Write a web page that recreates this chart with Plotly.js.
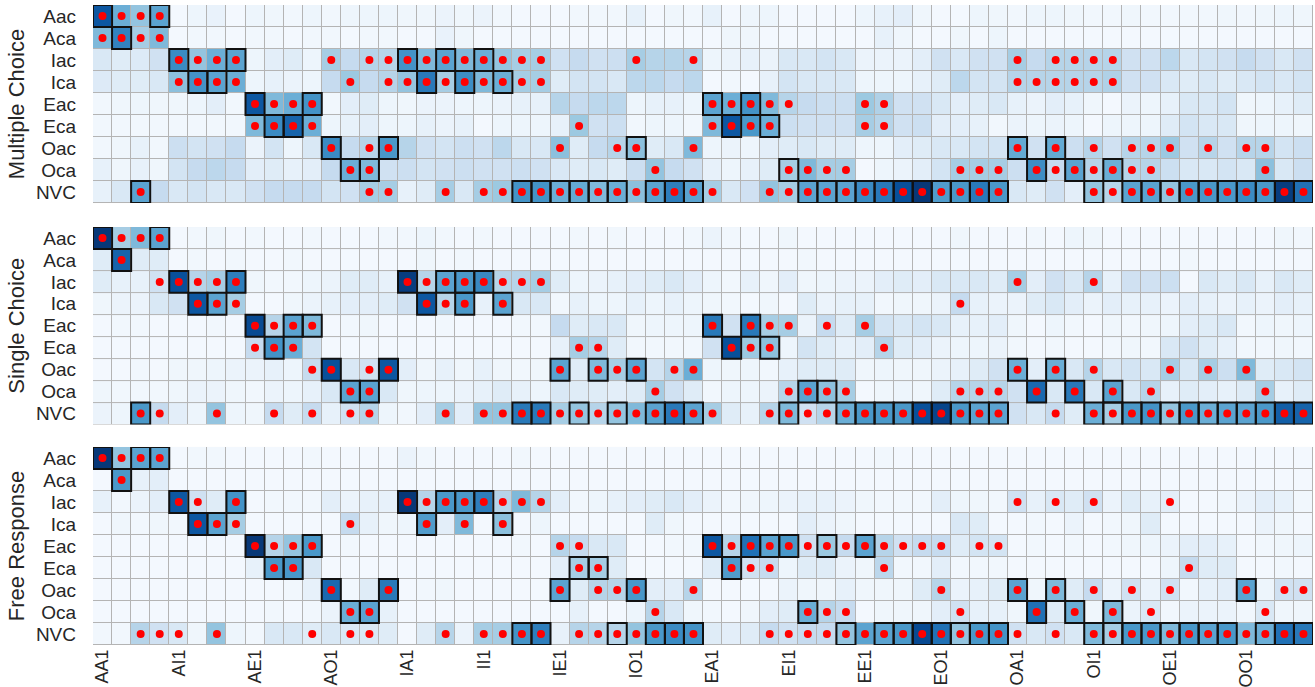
<!DOCTYPE html>
<html><head><meta charset="utf-8">
<script src="https://cdn.plot.ly/plotly-3.0.1.min.js"></script>
<style>html,body{margin:0;padding:0;background:#fff}#chart{width:1315px;height:687px}</style>
</head><body><div id="chart"></div>
<script>
const syllogisms = ['AA1','AA2','AA3','AA4','AI1','AI2','AI3','AI4','AE1','AE2','AE3','AE4','AO1','AO2','AO3','AO4',
  'IA1','IA2','IA3','IA4','II1','II2','II3','II4','IE1','IE2','IE3','IE4','IO1','IO2','IO3','IO4',
  'EA1','EA2','EA3','EA4','EI1','EI2','EI3','EI4','EE1','EE2','EE3','EE4','EO1','EO2','EO3','EO4',
  'OA1','OA2','OA3','OA4','OI1','OI2','OI3','OI4','OE1','OE2','OE3','OE4','OO1','OO2','OO3','OO4'];
const xTickLabels = ['AA1','AI1','AE1','AO1','IA1','II1','IE1','IO1','EA1','EI1','EE1','EO1','OA1','OI1','OE1','OO1'];
const responses = ['Aac','Aca','Iac','Ica','Eac','Eca','Oac','Oca','NVC'];
const panelTitles = ['Multiple Choice','Single Choice','Free Response'];

const mcValues = [
 [0.85,0.5,0.4,0.55,0.02,0.05,0.07,0.02,0.05,0.04,0.03,0.05,0.03,0.05,0.05,0.05, 0.04,0.04,0.06,0.04,0.06,0.03,0.02,0.02,0.02,0.03,0.03,0.03,0.08,0.02,0.04,0.03, 0.08,0.02,0.05,0.05,0.02,0.02,0.02,0.02,0.05,0.08,0.1,0.04,0.02,0.02,0.05,0.04, 0.03,0.05,0.05,0.04,0.03,0.03,0.04,0.03,0.03,0.03,0.03,0.04,0.03,0.04,0.05,0.04],
 [0.45,0.68,0.35,0.45,0.02,0.03,0.03,0.02,0.03,0.03,0.02,0.03,0.03,0.02,0.03,0.03, 0.02,0.02,0.07,0.04,0.02,0.02,0.02,0.02,0.02,0.02,0.02,0.02,0.02,0.02,0.02,0.02, 0.02,0.04,0.04,0.02,0.02,0.02,0.02,0.02,0.02,0.08,0.04,0.02,0.02,0.04,0.02,0.05, 0.02,0.02,0.02,0.02,0.02,0.02,0.02,0.02,0.02,0.02,0.02,0.02,0.02,0.02,0.02,0.02],
 [0.15,0.12,0.13,0.2,0.65,0.4,0.5,0.55,0.05,0.1,0.12,0.05,0.35,0.25,0.3,0.3, 0.62,0.45,0.55,0.45,0.5,0.4,0.35,0.35,0.2,0.25,0.2,0.22,0.35,0.3,0.3,0.3, 0.05,0.06,0.08,0.06,0.15,0.15,0.18,0.15,0.06,0.06,0.06,0.1,0.2,0.15,0.2,0.2, 0.35,0.25,0.3,0.3,0.3,0.3,0.2,0.2,0.28,0.15,0.18,0.2,0.25,0.2,0.15,0.2],
 [0.13,0.12,0.12,0.15,0.42,0.62,0.55,0.5,0.05,0.08,0.06,0.05,0.25,0.38,0.25,0.3, 0.4,0.72,0.35,0.64,0.45,0.5,0.35,0.35,0.12,0.18,0.18,0.15,0.28,0.28,0.25,0.28, 0.02,0.03,0.02,0.08,0.18,0.15,0.15,0.15,0.05,0.05,0.05,0.08,0.12,0.28,0.18,0.18, 0.3,0.3,0.3,0.3,0.3,0.32,0.2,0.2,0.15,0.12,0.15,0.12,0.15,0.18,0.15,0.18],
 [0.03,0.04,0.05,0.04,0.04,0.05,0.1,0.03,0.85,0.45,0.5,0.62,0.03,0.1,0.12,0.05, 0.04,0.06,0.06,0.05,0.05,0.06,0.08,0.08,0.3,0.25,0.28,0.28,0.05,0.08,0.08,0.05, 0.55,0.5,0.62,0.45,0.3,0.25,0.22,0.22,0.38,0.32,0.2,0.2,0.15,0.1,0.12,0.15, 0.08,0.06,0.1,0.08,0.04,0.02,0.06,0.05,0.08,0.15,0.15,0.18,0.04,0.05,0.08,0.12],
 [0.03,0.03,0.03,0.03,0.03,0.03,0.03,0.03,0.45,0.65,0.8,0.5,0.05,0.08,0.1,0.05, 0.05,0.08,0.06,0.08,0.02,0.05,0.05,0.05,0.08,0.38,0.2,0.22,0.03,0.05,0.05,0.03, 0.45,0.85,0.6,0.5,0.22,0.2,0.2,0.2,0.35,0.3,0.2,0.22,0.1,0.1,0.08,0.03, 0.06,0.05,0.06,0.05,0.02,0.05,0.05,0.05,0.12,0.18,0.15,0.15,0.04,0.05,0.05,0.04],
 [0.03,0.04,0.08,0.03,0.22,0.18,0.2,0.25,0.06,0.18,0.05,0.15,0.65,0.25,0.3,0.6, 0.3,0.2,0.18,0.22,0.2,0.28,0.15,0.15,0.42,0.12,0.25,0.3,0.42,0.12,0.15,0.45, 0.05,0.06,0.05,0.1,0.12,0.15,0.12,0.12,0.05,0.05,0.1,0.12,0.15,0.15,0.18,0.18, 0.52,0.2,0.52,0.22,0.3,0.2,0.3,0.3,0.38,0.2,0.3,0.2,0.3,0.3,0.18,0.22],
 [0.08,0.04,0.08,0.04,0.18,0.25,0.28,0.25,0.1,0.12,0.08,0.1,0.25,0.5,0.45,0.2, 0.22,0.18,0.2,0.22,0.2,0.2,0.22,0.2,0.15,0.12,0.15,0.12,0.22,0.4,0.25,0.2, 0.08,0.05,0.08,0.12,0.35,0.45,0.35,0.35,0.02,0.05,0.06,0.1,0.18,0.35,0.35,0.35, 0.22,0.64,0.25,0.55,0.3,0.5,0.3,0.3,0.22,0.15,0.15,0.18,0.15,0.42,0.15,0.22],
 [0.08,0.15,0.55,0.25,0.15,0.18,0.15,0.15,0.2,0.25,0.25,0.25,0.18,0.2,0.35,0.35, 0.08,0.12,0.35,0.15,0.35,0.38,0.62,0.62,0.5,0.52,0.45,0.5,0.42,0.55,0.7,0.55, 0.35,0.15,0.2,0.4,0.35,0.55,0.55,0.55,0.65,0.72,0.88,0.97,0.58,0.6,0.72,0.6, 0.15,0.12,0.2,0.1,0.4,0.3,0.55,0.55,0.4,0.6,0.6,0.6,0.65,0.6,0.95,0.75]
];
const mcDots = [
 [0,1,2,3],[0,1,2,3],
 [4,5,6,7,12,14,15,16,17,18,19,20,21,22,23,28,31,48,50,51,52,53],
 [4,5,6,7,13,15,16,17,18,19,20,21,22,23,48,49,50,51,52,53],
 [8,9,10,11,32,33,34,35,36,40,41],
 [8,9,10,11,25,32,33,34,35,40,41],
 [12,14,15,24,27,28,31,48,50,52,54,55,56,58,60,61],
 [13,14,29,36,37,38,39,45,46,47,49,50,51,52,53,54,55,61],
 [2,14,15,18,20,21,22,23,24,25,26,27,28,29,30,31,32,35,36,37,38,39,40,41,42,43,44,45,46,47,52,53,54,55,56,57,58,59,60,61,62,63]
];
const mcBoxes = [
 [0,3],[1],[4,7,16,18,20],[5,6,17,19,21],[8,11,32,34],[9,10,33,35],[12,15,28,48,50],[13,14,36,49,51,53],
 [2,22,23,24,25,26,27,29,30,31,37,38,39,40,41,42,43,44,45,46,47,52,54,55,56,57,58,59,60,61,62,63]
];

const scValues = [
 [0.97,0.35,0.45,0.55,0.02,0.03,0.04,0.02,0.03,0.02,0.02,0.03,0.02,0.02,0.02,0.03, 0.03,0.05,0.03,0.02,0.03,0.02,0.02,0.02,0.02,0.03,0.02,0.03,0.02,0.02,0.02,0.03, 0.06,0.03,0.02,0.02,0.04,0.02,0.02,0.02,0.02,0.02,0.02,0.02,0.02,0.04,0.02,0.02, 0.02,0.03,0.02,0.05,0.04,0.02,0.02,0.02,0.02,0.02,0.02,0.02,0.02,0.02,0.04,0.03],
 [0.12,0.8,0.12,0.12,0.02,0.03,0.02,0.03,0.02,0.02,0.03,0.02,0.02,0.02,0.02,0.02, 0.02,0.04,0.02,0.03,0.02,0.02,0.02,0.02,0.02,0.02,0.02,0.02,0.02,0.02,0.02,0.02, 0.02,0.02,0.02,0.02,0.02,0.03,0.02,0.02,0.02,0.02,0.02,0.02,0.02,0.02,0.02,0.02, 0.02,0.02,0.02,0.02,0.02,0.02,0.02,0.02,0.02,0.03,0.02,0.02,0.02,0.02,0.02,0.02],
 [0.12,0.08,0.08,0.2,0.88,0.3,0.35,0.7,0.04,0.03,0.03,0.05,0.06,0.12,0.12,0.08, 0.95,0.3,0.55,0.6,0.66,0.3,0.3,0.35,0.12,0.05,0.06,0.08,0.1,0.12,0.15,0.1, 0.05,0.03,0.08,0.04,0.1,0.04,0.05,0.06,0.06,0.1,0.12,0.1,0.15,0.15,0.15,0.12, 0.35,0.1,0.2,0.15,0.3,0.08,0.2,0.2,0.22,0.02,0.15,0.12,0.15,0.08,0.15,0.12],
 [0.04,0.06,0.06,0.15,0.2,0.85,0.55,0.35,0.02,0.02,0.04,0.06,0.08,0.1,0.1,0.12, 0.2,0.85,0.3,0.6,0.08,0.55,0.15,0.15,0.03,0.08,0.05,0.05,0.08,0.05,0.08,0.05, 0.04,0.03,0.02,0.04,0.02,0.12,0.06,0.08,0.08,0.03,0.04,0.04,0.06,0.25,0.08,0.06, 0.06,0.12,0.15,0.1,0.06,0.1,0.08,0.08,0.06,0.1,0.08,0.06,0.08,0.06,0.1,0.08],
 [0.02,0.03,0.03,0.02,0.02,0.02,0.03,0.02,0.9,0.3,0.55,0.45,0.02,0.03,0.04,0.02, 0.02,0.02,0.03,0.02,0.02,0.02,0.03,0.03,0.25,0.12,0.15,0.15,0.04,0.05,0.05,0.05, 0.72,0.2,0.72,0.35,0.35,0.06,0.25,0.12,0.35,0.18,0.15,0.18,0.15,0.08,0.08,0.1, 0.04,0.02,0.05,0.03,0.02,0.04,0.03,0.04,0.05,0.1,0.12,0.15,0.03,0.05,0.04,0.05],
 [0.02,0.02,0.02,0.02,0.02,0.02,0.02,0.02,0.25,0.62,0.5,0.18,0.02,0.02,0.02,0.02, 0.02,0.02,0.02,0.02,0.02,0.02,0.02,0.02,0.08,0.35,0.3,0.12,0.03,0.03,0.03,0.03, 0.2,0.88,0.38,0.42,0.05,0.18,0.12,0.08,0.1,0.3,0.12,0.1,0.06,0.05,0.05,0.06, 0.03,0.02,0.03,0.02,0.02,0.03,0.04,0.03,0.15,0.2,0.12,0.08,0.03,0.03,0.04,0.03],
 [0.02,0.02,0.03,0.02,0.04,0.04,0.05,0.06,0.06,0.08,0.05,0.25,0.88,0.15,0.2,0.85, 0.1,0.04,0.08,0.04,0.08,0.04,0.03,0.04,0.55,0.12,0.45,0.35,0.55,0.18,0.3,0.5, 0.05,0.04,0.05,0.03,0.08,0.12,0.12,0.12,0.04,0.05,0.04,0.04,0.06,0.08,0.12,0.2, 0.5,0.1,0.5,0.15,0.3,0.15,0.18,0.15,0.35,0.15,0.35,0.22,0.45,0.12,0.15,0.18],
 [0.04,0.03,0.03,0.03,0.04,0.06,0.06,0.04,0.03,0.06,0.05,0.08,0.15,0.55,0.55,0.15, 0.04,0.05,0.05,0.06,0.08,0.12,0.08,0.05,0.15,0.12,0.12,0.1,0.12,0.35,0.2,0.12, 0.03,0.05,0.05,0.06,0.3,0.55,0.42,0.35,0.02,0.04,0.05,0.04,0.12,0.3,0.3,0.3, 0.2,0.78,0.15,0.72,0.15,0.55,0.15,0.3,0.08,0.12,0.1,0.08,0.12,0.35,0.08,0.12],
 [0.06,0.05,0.6,0.25,0.1,0.05,0.4,0.05,0.04,0.25,0.12,0.25,0.08,0.2,0.3,0.05, 0.03,0.1,0.35,0.1,0.4,0.4,0.72,0.72,0.35,0.4,0.3,0.4,0.45,0.55,0.72,0.55, 0.35,0.12,0.08,0.3,0.45,0.2,0.3,0.5,0.6,0.6,0.6,0.88,0.92,0.6,0.55,0.55, 0.2,0.15,0.25,0.12,0.5,0.35,0.6,0.62,0.4,0.6,0.5,0.55,0.55,0.6,0.82,0.8]
];
const scDots = [
 [0,1,2,3],[1],
 [3,4,5,6,7,16,17,18,19,20,21,22,23,48,52],
 [5,6,7,17,18,19,21,45],
 [8,9,10,11,32,34,35,36,38,40],
 [8,9,10,25,26,33,34,35,41],
 [11,12,14,15,24,26,27,28,30,31,48,50,52,56,58,60],
 [13,14,29,36,37,38,39,45,46,47,49,51,53,55,61],
 [2,3,6,9,11,13,14,18,20,21,22,23,24,25,26,27,28,29,30,31,32,35,36,37,38,39,40,41,42,43,44,45,46,47,50,52,53,54,55,56,57,58,59,60,61,62,63]
];
const scBoxes = [
 [0,3],[1],[4,7,16,18,19,20],[5,6,17,19,21],[8,10,11,32,34],[9,33,35],[12,15,24,26,28,48,50],[13,14,37,38,49,51,53],
 [2,22,23,25,27,29,30,31,36,39,40,41,42,43,44,45,46,47,52,53,54,55,56,57,58,59,60,61,62,63]
];

const frValues = [
 [0.97,0.4,0.55,0.55,0.02,0.03,0.03,0.02,0.02,0.02,0.02,0.03,0.02,0.02,0.02,0.02, 0.06,0.03,0.02,0.02,0.02,0.02,0.03,0.02,0.02,0.02,0.02,0.02,0.02,0.02,0.02,0.02, 0.02,0.02,0.02,0.02,0.02,0.02,0.02,0.02,0.02,0.03,0.02,0.02,0.02,0.02,0.02,0.02, 0.02,0.02,0.02,0.02,0.02,0.02,0.02,0.02,0.02,0.02,0.02,0.02,0.02,0.02,0.02,0.02],
 [0.02,0.6,0.08,0.1,0.02,0.02,0.02,0.02,0.02,0.02,0.02,0.02,0.02,0.02,0.02,0.02, 0.02,0.02,0.02,0.02,0.02,0.02,0.02,0.02,0.02,0.02,0.02,0.02,0.02,0.02,0.02,0.02, 0.02,0.02,0.02,0.02,0.02,0.02,0.02,0.02,0.02,0.02,0.02,0.02,0.02,0.02,0.02,0.02, 0.02,0.02,0.02,0.02,0.02,0.02,0.02,0.02,0.02,0.02,0.02,0.02,0.02,0.02,0.02,0.02],
 [0.08,0.03,0.06,0.1,0.85,0.2,0.12,0.62,0.02,0.03,0.03,0.03,0.1,0.06,0.08,0.08, 0.97,0.3,0.6,0.6,0.7,0.3,0.45,0.3,0.1,0.03,0.05,0.08,0.1,0.12,0.15,0.1, 0.06,0.03,0.04,0.05,0.06,0.08,0.08,0.06,0.04,0.03,0.03,0.03,0.1,0.05,0.04,0.03, 0.2,0.08,0.15,0.12,0.2,0.06,0.12,0.08,0.1,0.02,0.02,0.03,0.06,0.1,0.08,0.03],
 [0.02,0.04,0.03,0.04,0.03,0.85,0.55,0.35,0.02,0.02,0.02,0.02,0.02,0.25,0.08,0.04, 0.05,0.58,0.1,0.45,0.02,0.42,0.02,0.05,0.02,0.02,0.02,0.02,0.02,0.12,0.04,0.02, 0.02,0.02,0.02,0.02,0.02,0.1,0.06,0.04,0.02,0.02,0.02,0.02,0.02,0.15,0.12,0.02, 0.02,0.03,0.02,0.06,0.02,0.03,0.04,0.12,0.02,0.02,0.02,0.02,0.02,0.06,0.04,0.02],
 [0.02,0.02,0.02,0.02,0.02,0.02,0.02,0.02,0.97,0.3,0.4,0.6,0.02,0.03,0.02,0.02, 0.02,0.02,0.02,0.02,0.02,0.02,0.03,0.02,0.3,0.25,0.15,0.15,0.02,0.02,0.03,0.03, 0.85,0.3,0.75,0.55,0.6,0.2,0.38,0.25,0.55,0.3,0.2,0.25,0.25,0.12,0.18,0.18, 0.02,0.03,0.02,0.03,0.02,0.03,0.04,0.05,0.06,0.1,0.1,0.08,0.02,0.03,0.04,0.05],
 [0.02,0.02,0.02,0.02,0.02,0.02,0.02,0.02,0.08,0.6,0.6,0.15,0.02,0.02,0.02,0.02, 0.02,0.02,0.02,0.02,0.02,0.02,0.02,0.02,0.1,0.35,0.35,0.12,0.02,0.02,0.02,0.02, 0.12,0.58,0.2,0.25,0.05,0.12,0.12,0.06,0.04,0.28,0.03,0.03,0.1,0.03,0.03,0.03, 0.02,0.02,0.02,0.02,0.02,0.02,0.02,0.02,0.05,0.25,0.12,0.12,0.02,0.02,0.03,0.02],
 [0.02,0.02,0.02,0.02,0.02,0.02,0.02,0.02,0.02,0.02,0.03,0.08,0.78,0.03,0.12,0.72, 0.02,0.03,0.04,0.02,0.02,0.02,0.02,0.02,0.55,0.12,0.3,0.3,0.6,0.1,0.1,0.3, 0.02,0.02,0.02,0.02,0.06,0.04,0.04,0.08,0.04,0.04,0.04,0.12,0.3,0.06,0.08,0.12, 0.55,0.04,0.45,0.12,0.25,0.06,0.2,0.06,0.2,0.03,0.08,0.1,0.55,0.05,0.2,0.2],
 [0.02,0.02,0.02,0.02,0.02,0.02,0.02,0.02,0.02,0.03,0.02,0.03,0.06,0.5,0.55,0.08, 0.02,0.02,0.02,0.02,0.02,0.02,0.02,0.02,0.02,0.08,0.02,0.02,0.05,0.3,0.15,0.04, 0.03,0.02,0.04,0.1,0.12,0.5,0.3,0.25,0.02,0.04,0.04,0.04,0.1,0.2,0.08,0.08, 0.04,0.75,0.12,0.5,0.04,0.45,0.06,0.15,0.03,0.06,0.06,0.06,0.03,0.15,0.04,0.04],
 [0.03,0.03,0.3,0.2,0.15,0.04,0.4,0.05,0.03,0.15,0.15,0.12,0.15,0.15,0.15,0.12, 0.02,0.12,0.3,0.06,0.35,0.35,0.62,0.7,0.08,0.3,0.3,0.3,0.4,0.6,0.65,0.62, 0.12,0.1,0.12,0.25,0.2,0.25,0.25,0.4,0.55,0.55,0.6,0.9,0.75,0.4,0.6,0.62, 0.2,0.15,0.2,0.15,0.45,0.35,0.6,0.6,0.45,0.6,0.55,0.6,0.45,0.5,0.75,0.72]
];
const frDots = [
 [0,1,2,3],[1],
 [4,5,7,16,17,18,19,20,21,22,23,48,50,52,56],
 [5,6,7,13,17,19,21],
 [8,9,10,11,24,25,32,33,34,35,36,37,38,39,40,41,42,43,44,46,47],
 [9,10,25,26,33,34,35,41,57],
 [12,15,24,26,27,28,31,44,48,50,52,54,56,60,62,63],
 [13,14,29,37,38,39,45,49,51,53,55,61],
 [2,3,4,6,11,13,14,18,20,21,22,23,25,26,27,28,29,30,31,35,36,37,38,39,40,41,42,43,44,45,46,47,48,50,52,53,54,55,56,57,58,59,60,61,62,63]
];
const frBoxes = [
 [0,2,3],[1],[4,7,16,18,19,20],[5,6,17,21],[8,11,32,34,35,36,38,40],[9,10,25,26,33],[12,15,24,28,48,50,60],[13,14,37,49,51,53],
 [22,23,27,29,30,31,39,41,42,43,44,45,46,47,52,53,54,55,56,57,58,59,61,62,63]
];

const blues = [[0,'#f7fbff'],[0.125,'#deebf7'],[0.25,'#c6dbef'],[0.375,'#9ecae1'],[0.5,'#6baed6'],[0.625,'#4292c6'],[0.75,'#2171b5'],[0.875,'#08519c'],[1,'#08306b']];
const panels = [
  {values: mcValues, dots: mcDots, boxes: mcBoxes},
  {values: scValues, dots: scDots, boxes: scBoxes},
  {values: frValues, dots: frDots, boxes: frBoxes}
];
const domains = [[0.6906,1],[0.3445,0.6531],[0,0.3094]];
const font = 'Liberation Sans, Arial, sans-serif';

const traces = [];
const shapes = [];
const layout = {
  width: 1315, height: 687,
  margin: {l: 93, r: 2, t: 5, b: 42},
  paper_bgcolor: '#ffffff', plot_bgcolor: '#b4b4b4',
  showlegend: false,
  font: {family: font, size: 19, color: '#262626'},
  shapes: shapes
};

panels.forEach((p, i) => {
  const n = i === 0 ? '' : String(i + 1);
  const xa = 'x' + n, ya = 'y' + n;
  traces.push({
    type: 'heatmap', x: syllogisms, y: responses, z: p.values,
    colorscale: blues, zmin: 0, zmax: 1, showscale: false,
    xgap: 1, ygap: 1, hoverinfo: 'skip', xaxis: xa, yaxis: ya
  });
  const dx = [], dy = [];
  p.dots.forEach((cols, r) => cols.forEach(c => { dx.push(syllogisms[c]); dy.push(responses[r]); }));
  p.boxes.forEach((cols, r) => cols.forEach(c => {
    shapes.push({type: 'rect', xref: xa, yref: ya, x0: c - 0.5, x1: c + 0.5, y0: r - 0.5, y1: r + 0.5,
      line: {color: '#111111', width: 2}, fillcolor: 'rgba(0,0,0,0)', layer: 'above'});
  }));
  traces.push({
    type: 'scatter', mode: 'markers', x: dx, y: dy, xaxis: xa, yaxis: ya,
    marker: {color: '#ff0000', size: 8, line: {width: 0}}, hoverinfo: 'skip', cliponaxis: false
  });
  layout['xaxis' + n] = {
    anchor: ya, type: 'category', range: [-0.5, 63.5], showgrid: false, zeroline: false, showline: false,
    ticks: '', tickmode: 'array', tickvals: xTickLabels, ticktext: xTickLabels, showticklabels: i === 2,
    tickangle: -90, tickfont: {size: 18, color: '#262626'}, ticklabelstandoff: 0, fixedrange: true
  };
  layout['yaxis' + n] = {
    anchor: xa, domain: domains[i], type: 'category', range: [8.5, -0.5], showgrid: false, zeroline: false,
    showline: false, ticks: '', tickmode: 'array', tickvals: responses, ticktext: responses,
    tickfont: {size: 19, color: '#262626'}, ticklabelstandoff: 16,
    title: {text: panelTitles[i], font: {size: 22, color: '#262626'}, standoff: 5}, fixedrange: true
  };
});

Plotly.newPlot('chart', traces, layout, {staticPlot: true, displayModeBar: false});
</script>
</body></html>
